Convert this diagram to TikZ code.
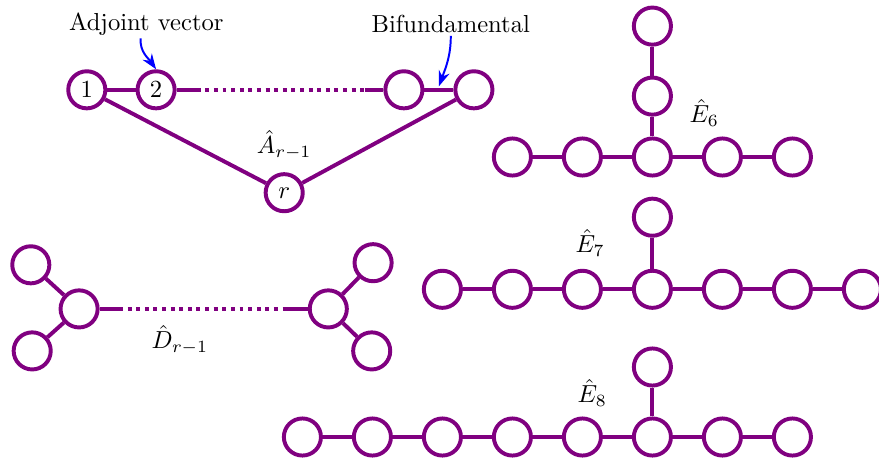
\documentclass[tikz,border=0pt]{standalone}
\usepackage{amsmath,amssymb}
\usepackage{xcolor}
\usetikzlibrary{arrows.meta}
\definecolor{dynkin}{RGB}{128,0,128}

\begin{document}
\begin{tikzpicture}[
  vtx/.style={draw=dynkin, circle, ultra thick, minimum size=5.3mm, inner sep=0pt},
  link/.style={draw=dynkin, ultra thick},
  dots/.style={dash pattern=on 1.6pt off 1.9pt},
  lbl/.style={inner sep=1pt},
  pointer/.style={draw=blue, thick, -{Stealth[length=2.2mm,width=1.6mm]}}
]
\useasboundingbox (0,0) rectangle (12.557,6.543);

% affine A
\node[vtx] (a1) at (1.24,5.26) {1};
\node[vtx] (a2) at (2.23,5.26) {2};
\node[vtx] (a3) at (5.77,5.26) {};
\node[vtx] (a4) at (6.77,5.26) {};
\node[vtx] (ar) at (4.06,3.79) {$r$};
\coordinate (as) at (2.81,5.26);
\coordinate (ae) at (5.21,5.26);
\draw[link] (a1) -- (a2);
\draw[link] (a2) -- (as);
\draw[link, dots] (as) -- (ae);
\draw[link] (ae) -- (a3);
\draw[link] (a3) -- (a4);
\draw[link] (a1) -- (ar);
\draw[link] (ar) -- (a4);
\node (lA) at (4.06,4.47) {$\hat{A}_{r-1}$};

\node[lbl] (adj) at (2.09,6.20) {Adjoint vector};
\node[lbl] (bif) at (6.44,6.20) {Bifundamental};
\coordinate (abif) at (6.27,5.31);
\draw[pointer] ([xshift=-0.8mm]adj.south) to[out=-95, in=125] (a2.north);
\draw[pointer] (bif.south) to[out=-90, in=70] (abif);

% affine D
\node[vtx] (d1) at (1.13,2.13) {};
\node[vtx] (d2) at (0.44,2.76) {};
\node[vtx] (d3) at (0.46,1.53) {};
\node[vtx] (d4) at (4.69,2.13) {};
\node[vtx] (d5) at (5.33,2.79) {};
\node[vtx] (d6) at (5.31,1.53) {};
\coordinate (ds) at (1.70,2.13);
\coordinate (de) at (4.07,2.13);
\draw[link] (d1) -- (d2);
\draw[link] (d1) -- (d3);
\draw[link] (d1) -- (ds);
\draw[link, dots] (ds) -- (de);
\draw[link] (de) -- (d4);
\draw[link] (d4) -- (d5);
\draw[link] (d4) -- (d6);
\node (lD) at (2.57,1.69) {$\hat{D}_{r-1}$};

% affine E6
\foreach \i in {1,...,5}
  \node[vtx] (e6-\i) at ({6.32+\i},4.30) {};
\node[vtx] (e6-6) at (9.32,5.17) {};
\node[vtx] (e6-7) at (9.32,6.17) {};
\foreach \i/\j in {1/2,2/3,3/4,4/5}
  \draw[link] (e6-\i) -- (e6-\j);
\draw[link] (e6-3) -- (e6-6) -- (e6-7);
\node (lE6) at (10.06,4.93) {$\hat{E}_6$};

% affine E7
\foreach \i in {1,...,7}
  \node[vtx] (e7-\i) at ({5.32+\i},2.41) {};
\node[vtx] (e7-8) at (9.32,3.44) {};
\foreach \i/\j in {1/2,2/3,3/4,4/5,5/6,6/7}
  \draw[link] (e7-\i) -- (e7-\j);
\draw[link] (e7-4) -- (e7-8);
\node (lE7) at (8.43,3.07) {$\hat{E}_7$};

% affine E8
\foreach \i in {1,...,8}
  \node[vtx] (e8-\i) at ({3.32+\i},0.30) {};
\node[vtx] (e8-9) at (9.32,1.30) {};
\foreach \i/\j in {1/2,2/3,3/4,4/5,5/6,6/7,7/8}
  \draw[link] (e8-\i) -- (e8-\j);
\draw[link] (e8-6) -- (e8-9);
\node (lE8) at (8.46,0.93) {$\hat{E}_8$};
\end{tikzpicture}
\end{document}
